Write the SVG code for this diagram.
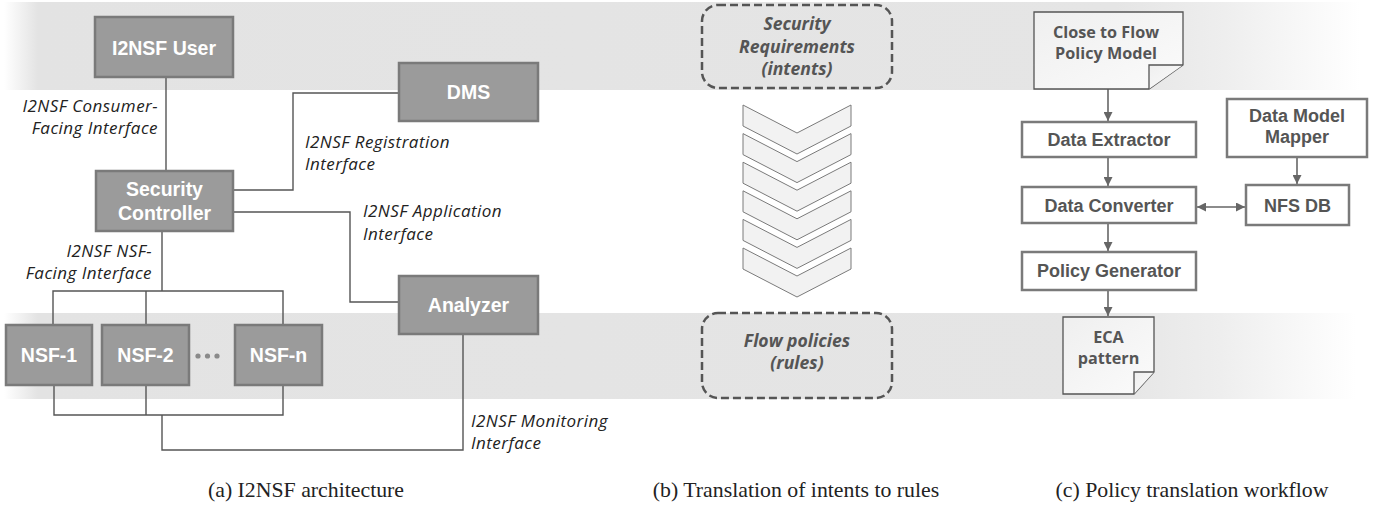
<svg xmlns="http://www.w3.org/2000/svg" width="1385" height="514" viewBox="0 0 1385 514">
<style>
.node rect{fill:#9b9b9b;stroke:#7a7a7a;stroke-width:2.5}
.nt{font-family:"Liberation Sans",Arial,sans-serif;font-weight:bold;font-size:19.5px;fill:#ffffff;text-anchor:middle}
.lbl{font-family:"Open Sans","Noto Sans",sans-serif;font-style:italic;font-size:17px;letter-spacing:0.45px;fill:#222}
.conn{fill:none;stroke:#555;stroke-width:1.4}
.box rect{fill:#ffffff;stroke:#7a7a7a;stroke-width:2.5}
.bt{font-family:"Liberation Sans",Arial,sans-serif;font-weight:bold;font-size:18px;fill:#555;text-anchor:middle}
.doc path{fill:url(#docg);stroke:#555;stroke-width:1.3}
.dt{font-family:"Open Sans","Noto Sans",sans-serif;font-weight:bold;font-size:16.2px;fill:#555;text-anchor:middle}
.dash rect{fill:none;stroke:#555;stroke-width:2.5;stroke-dasharray:8 4}
.dsh{font-family:"Open Sans","Noto Sans",sans-serif;font-weight:bold;font-style:italic;font-size:17.6px;fill:#555;text-anchor:middle}
.chev{fill:#f2f2f2;stroke:#7a7a7a;stroke-width:1}
.arr{fill:none;stroke:#666;stroke-width:1.6}
.cap{font-family:"Liberation Serif","Times New Roman",serif;font-size:21.8px;fill:#222;text-anchor:middle}
</style>
<defs>
<linearGradient id="band" x1="0" y1="0" x2="1" y2="0">
<stop offset="0" stop-color="#e3e3e3" stop-opacity="0"/>
<stop offset="0.025" stop-color="#e3e3e3"/>
<stop offset="0.82" stop-color="#e5e5e5"/>
<stop offset="0.9" stop-color="#eeeeee"/>
<stop offset="1" stop-color="#ffffff"/>
</linearGradient>
<linearGradient id="docg" x1="0" y1="0" x2="1" y2="1">
<stop offset="0" stop-color="#efefef"/>
<stop offset="1" stop-color="#fbfbfb"/>
</linearGradient>
<marker id="ah" viewBox="0 0 10 10" refX="10" refY="5" markerWidth="9" markerHeight="9" markerUnits="userSpaceOnUse" orient="auto-start-reverse">
<path d="M0,0 L10,5 L0,10 Z" fill="#666"/>
</marker>
</defs>

<g id="bands">
<rect x="4" y="2" width="1356" height="88" fill="url(#band)"/>
<rect x="4" y="313" width="1352" height="86" fill="url(#band)"/>
</g>

<g id="connectors">
<path class="conn" d="M166,77 V171"/>
<path class="conn" d="M233,190 H293 V93 H399"/>
<path class="conn" d="M233,212 H350 V302 H399"/>
<path class="conn" d="M162,231 V291 M53,325 V291 H283 V325 M146,291 V325"/>
<path class="conn" d="M54,385 V415 H283 V385 M146,385 V415 M162,415 V450 H463 V334"/>
<path class="arr" d="M1108,89 V121" marker-end="url(#ah)"/>
<path class="arr" d="M1108,157 V186" marker-end="url(#ah)"/>
<path class="arr" d="M1108,223 V251" marker-end="url(#ah)"/>
<path class="arr" d="M1108,290 V316" marker-end="url(#ah)"/>
<path class="arr" d="M1297,157 V184" marker-end="url(#ah)"/>
<path class="arr" d="M1197,207 H1245" marker-start="url(#ah)" marker-end="url(#ah)"/>
</g>

<g id="labels">
<text class="lbl" text-anchor="end"><tspan x="158" y="112">I2NSF Consumer-</tspan><tspan x="158" y="134">Facing Interface</tspan></text>
<text class="lbl"><tspan x="305" y="147.5">I2NSF Registration</tspan><tspan x="305" y="169.5">Interface</tspan></text>
<text class="lbl"><tspan x="363" y="217">I2NSF Application</tspan><tspan x="363" y="240">Interface</tspan></text>
<text class="lbl" text-anchor="end"><tspan x="152" y="257">I2NSF NSF-</tspan><tspan x="152" y="279">Facing Interface</tspan></text>
<text class="lbl"><tspan x="471" y="426.5">I2NSF Monitoring</tspan><tspan x="471" y="448.5">Interface</tspan></text>
</g>

<g id="user" class="node"><rect x="95" y="17" width="138" height="60"/><text class="nt" x="164" y="55">I2NSF User</text></g>
<g id="dms" class="node"><rect x="399" y="63" width="139" height="58"/><text class="nt" x="468.5" y="99">DMS</text></g>
<g id="controller" class="node"><rect x="96" y="171" width="137" height="60"/><text class="nt"><tspan x="164.5" y="196">Security</tspan><tspan x="164.5" y="220">Controller</tspan></text></g>
<g id="analyzer" class="node"><rect x="399" y="276" width="139" height="58"/><text class="nt" x="468.5" y="312">Analyzer</text></g>
<g id="nsf1" class="node"><rect x="6" y="325" width="86" height="60"/><text class="nt" x="49" y="362">NSF-1</text></g>
<g id="nsf2" class="node"><rect x="102" y="325" width="87" height="60"/><text class="nt" x="145.5" y="362">NSF-2</text></g>
<g id="dots" fill="#8a8a8a"><circle cx="198" cy="356" r="2.6"/><circle cx="207.5" cy="356" r="2.6"/><circle cx="217" cy="356" r="2.6"/></g>
<g id="nsfn" class="node"><rect x="235" y="325" width="87" height="60"/><text class="nt" x="278.5" y="362">NSF-n</text></g>

<g id="intents" class="dash"><rect x="702" y="5" width="190" height="83" rx="16"/><text class="dsh"><tspan x="797" y="30">Security</tspan><tspan x="797" y="52.5">Requirements</tspan><tspan x="797" y="75">(intents)</tspan></text></g>
<g id="chevrons">
<polygon class="chev" points="743,105 797,133 851,105 851,126 797,154 743,126"/>
<polygon class="chev" points="743,133.6 797,161.6 851,133.6 851,154.6 797,182.6 743,154.6"/>
<polygon class="chev" points="743,162.2 797,190.2 851,162.2 851,183.2 797,211.2 743,183.2"/>
<polygon class="chev" points="743,190.8 797,218.8 851,190.8 851,211.8 797,239.8 743,211.8"/>
<polygon class="chev" points="743,219.4 797,247.4 851,219.4 851,240.4 797,268.4 743,240.4"/>
<polygon class="chev" points="743,248 797,276 851,248 851,269 797,297 743,269"/>
</g>
<g id="rules" class="dash"><rect x="702" y="313" width="190" height="85" rx="16"/><text class="dsh"><tspan x="797" y="347">Flow policies</tspan><tspan x="797" y="369">(rules)</tspan></text></g>

<g id="flowmodel" class="doc"><path d="M1034,12 H1183 V65 L1149,89 H1034 Z"/><path d="M1149,89 V65 H1183"/><text class="dt"><tspan x="1106" y="38">Close to Flow</tspan><tspan x="1106" y="59">Policy Model</tspan></text></g>
<g id="extractor" class="box"><rect x="1022" y="122" width="174" height="35"/><text class="bt" x="1109" y="146">Data Extractor</text></g>
<g id="mapper" class="box"><rect x="1227" y="99" width="140" height="58"/><text class="bt"><tspan x="1297" y="122">Data Model</tspan><tspan x="1297" y="143">Mapper</tspan></text></g>
<g id="converter" class="box"><rect x="1022" y="187" width="174" height="36"/><text class="bt" x="1109" y="212">Data Converter</text></g>
<g id="nfsdb" class="box"><rect x="1246" y="185" width="103" height="40"/><text class="bt" x="1297.5" y="212">NFS DB</text></g>
<g id="generator" class="box"><rect x="1022" y="252" width="174" height="38"/><text class="bt" x="1109" y="277">Policy Generator</text></g>
<g id="eca" class="doc"><path d="M1063,317 H1154 V372 L1134,394 H1063 Z"/><path d="M1134,394 V372 H1154"/><text class="dt"><tspan x="1108.5" y="343">ECA</tspan><tspan x="1108.5" y="364">pattern</tspan></text></g>

<g id="captions">
<text class="cap" x="306" y="497">(a) I2NSF architecture</text>
<text class="cap" x="796" y="497">(b) Translation of intents to rules</text>
<text class="cap" x="1192" y="497">(c) Policy translation workflow</text>
</g>
</svg>
